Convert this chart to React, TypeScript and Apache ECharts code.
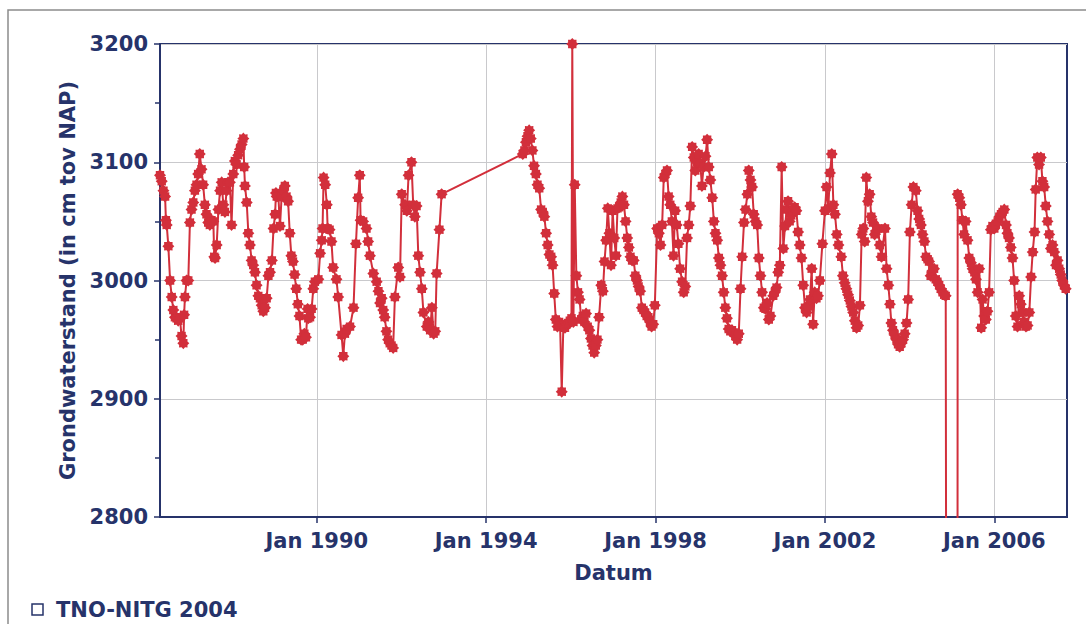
import React, { useEffect, useRef } from 'react';
import * as echarts from 'echarts';

const obs1986to1989: [string, number][] = [
  ['1986-04-20', 3089], ['1986-05-05', 3084], ['1986-05-20', 3076], ['1986-06-03', 3071], ['1986-06-10', 3051],
  ['1986-06-17', 3047], ['1986-07-01', 3029], ['1986-07-16', 3000], ['1986-07-30', 2986], ['1986-08-13', 2975],
  ['1986-08-27', 2969], ['1986-09-10', 2968], ['1986-09-24', 2966], ['1986-10-09', 2968], ['1986-10-23', 2953],
  ['1986-11-07', 2947], ['1986-11-14', 2971], ['1986-11-21', 2986], ['1986-12-05', 3000], ['1986-12-20', 3000],
  ['1987-01-03', 3049], ['1987-01-17', 3060], ['1987-02-01', 3066], ['1987-02-15', 3076], ['1987-03-01', 3081],
  ['1987-03-15', 3090], ['1987-03-29', 3107], ['1987-04-13', 3094], ['1987-04-27', 3081], ['1987-05-12', 3064],
  ['1987-05-26', 3056], ['1987-06-10', 3049], ['1987-06-24', 3047], ['1987-07-08', 3051], ['1987-07-24', 3050],
  ['1987-08-01', 3020], ['1987-08-08', 3019], ['1987-08-22', 3030], ['1987-09-06', 3060], ['1987-09-20', 3076],
  ['1987-10-04', 3083], ['1987-10-18', 3064], ['1987-11-01', 3058], ['1987-11-15', 3076], ['1987-11-28', 3083],
  ['1987-12-14', 3083], ['1987-12-28', 3047],
  ['1988-01-12', 3090], ['1988-01-26', 3101], ['1988-02-09', 3098], ['1988-02-23', 3106], ['1988-03-10', 3111],
  ['1988-03-24', 3115], ['1988-04-08', 3120], ['1988-04-15', 3096], ['1988-04-22', 3080], ['1988-05-07', 3066],
  ['1988-05-21', 3040], ['1988-06-04', 3030], ['1988-06-18', 3017], ['1988-07-02', 3013], ['1988-07-17', 3007],
  ['1988-07-31', 2996], ['1988-08-15', 2987], ['1988-08-29', 2985], ['1988-09-13', 2979], ['1988-09-27', 2974],
  ['1988-10-12', 2977], ['1988-10-26', 2985], ['1988-11-10', 3004], ['1988-11-24', 3007], ['1988-12-10', 3017],
  ['1988-12-24', 3044],
  ['1989-01-07', 3056], ['1989-01-14', 3074], ['1989-01-21', 3071], ['1989-02-04', 3071], ['1989-02-18', 3046],
  ['1989-03-04', 3071], ['1989-03-18', 3076], ['1989-04-01', 3080], ['1989-04-15', 3071], ['1989-04-29', 3067],
  ['1989-05-13', 3040], ['1989-05-27', 3021], ['1989-06-10', 3016], ['1989-06-24', 3005], ['1989-07-08', 2993],
  ['1989-07-22', 2980], ['1989-08-05', 2970], ['1989-08-19', 2950], ['1989-09-02', 2950], ['1989-09-16', 2955],
  ['1989-09-30', 2952], ['1989-10-14', 2976], ['1989-10-20', 2968], ['1989-11-04', 2969], ['1989-11-18', 2976],
  ['1989-12-02', 2993], ['1989-12-16', 2999],
];

const obs1990to1992: [string, number][] = [
  ['1990-01-15', 3001], ['1990-01-30', 3023], ['1990-02-13', 3034], ['1990-02-20', 3044], ['1990-03-01', 3087],
  ['1990-03-15', 3081], ['1990-03-29', 3064], ['1990-04-05', 3044], ['1990-04-22', 3043], ['1990-05-08', 3033],
  ['1990-05-22', 3011], ['1990-06-20', 3001], ['1990-07-05', 2986], ['1990-08-03', 2954], ['1990-08-18', 2936],
  ['1990-09-01', 2955], ['1990-09-16', 2959], ['1990-10-15', 2961], ['1990-11-14', 2977], ['1990-12-05', 3031],
  ['1990-12-24', 3070],
  ['1991-01-07', 3089], ['1991-01-14', 3051], ['1991-02-05', 3050], ['1991-03-06', 3044], ['1991-03-20', 3033],
  ['1991-04-05', 3021], ['1991-05-04', 3006], ['1991-06-02', 2999], ['1991-06-17', 2991], ['1991-07-01', 2981],
  ['1991-07-15', 2985], ['1991-07-28', 2975], ['1991-08-10', 2969], ['1991-08-25', 2957], ['1991-09-08', 2950],
  ['1991-09-23', 2947], ['1991-10-08', 2945], ['1991-10-22', 2943], ['1991-11-06', 2986], ['1991-12-05', 3011],
  ['1991-12-20', 3003],
  ['1992-01-04', 3073], ['1992-02-02', 3064], ['1992-02-17', 3059], ['1992-03-03', 3089], ['1992-03-28', 3100],
  ['1992-04-12', 3064], ['1992-04-26', 3054], ['1992-05-11', 3063], ['1992-05-26', 3021], ['1992-06-10', 3007],
  ['1992-06-25', 2993], ['1992-07-09', 2973], ['1992-08-07', 2961], ['1992-08-21', 2965], ['1992-09-05', 2958],
  ['1992-09-20', 2977], ['1992-10-05', 2955], ['1992-10-19', 2957], ['1992-10-31', 3006], ['1992-11-24', 3043],
  ['1992-12-13', 3073],
];

const obs1994to1996: [string, number][] = [
  ['1994-11-13', 3107], ['1994-11-27', 3110], ['1994-12-10', 3117], ['1994-12-24', 3122], ['1995-01-07', 3127],
  ['1995-01-21', 3120], ['1995-02-04', 3110], ['1995-02-18', 3097], ['1995-03-06', 3090], ['1995-03-20', 3081],
  ['1995-04-04', 3078], ['1995-04-20', 3060], ['1995-05-04', 3058], ['1995-05-18', 3054], ['1995-06-02', 3040],
  ['1995-06-16', 3030], ['1995-07-01', 3022], ['1995-07-16', 3020], ['1995-07-28', 3013], ['1995-08-11', 2989],
  ['1995-08-25', 2967], ['1995-09-08', 2961], ['1995-09-22', 2965], ['1995-10-01', 2962], ['1995-10-15', 2906],
  ['1995-10-29', 2962], ['1995-11-12', 2960], ['1995-11-26', 2963], ['1995-12-10', 2964], ['1995-12-24', 2966],
  ['1996-01-07', 2968], ['1996-01-14', 3200], ['1996-01-24', 2965], ['1996-02-04', 3081], ['1996-02-18', 3004],
  ['1996-03-03', 2990], ['1996-03-17', 2984], ['1996-03-31', 2967], ['1996-04-14', 2970], ['1996-04-28', 2965],
  ['1996-05-12', 2972], ['1996-05-26', 2961], ['1996-06-09', 2958], ['1996-06-23', 2951], ['1996-07-07', 2945],
  ['1996-07-21', 2939], ['1996-08-04', 2945], ['1996-08-18', 2950], ['1996-09-01', 2969], ['1996-09-20', 2996],
  ['1996-10-04', 2991], ['1996-10-18', 3016], ['1996-11-01', 3034], ['1996-11-15', 3061], ['1996-11-29', 3040],
  ['1996-12-13', 3013], ['1996-12-27', 3059],
];

const obs1997to1999: [string, number][] = [
  ['1997-01-10', 3036], ['1997-01-24', 3021], ['1997-02-07', 3061], ['1997-02-21', 3062], ['1997-03-07', 3066],
  ['1997-03-21', 3071], ['1997-04-04', 3064], ['1997-04-18', 3050], ['1997-05-02', 3036], ['1997-05-16', 3028],
  ['1997-05-30', 3020], ['1997-06-13', 3017], ['1997-06-27', 3017], ['1997-07-11', 3004], ['1997-07-25', 3000],
  ['1997-08-08', 2995], ['1997-08-22', 2991], ['1997-09-05', 2977], ['1997-09-19', 2975], ['1997-10-03', 2973],
  ['1997-10-17', 2970], ['1997-10-31', 2969], ['1997-11-14', 2965], ['1997-11-28', 2961], ['1997-12-12', 2963],
  ['1997-12-26', 2979],
  ['1998-01-15', 3044], ['1998-01-30', 3040], ['1998-02-13', 3030], ['1998-02-27', 3047], ['1998-03-13', 3087],
  ['1998-03-27', 3090], ['1998-04-10', 3093], ['1998-04-24', 3071], ['1998-05-08', 3064], ['1998-05-22', 3050],
  ['1998-06-05', 3021], ['1998-06-19', 3059], ['1998-07-03', 3047], ['1998-07-17', 3031], ['1998-08-01', 3010],
  ['1998-08-18', 2999], ['1998-09-01', 2990], ['1998-09-15', 2995], ['1998-09-30', 3036], ['1998-10-14', 3047],
  ['1998-10-28', 3063], ['1998-11-13', 3113], ['1998-11-27', 3104], ['1998-12-10', 3093], ['1998-12-24', 3100],
  ['1999-01-08', 3107], ['1999-01-22', 3099], ['1999-02-05', 3080], ['1999-02-19', 3096], ['1999-03-08', 3105],
  ['1999-03-22', 3119], ['1999-04-05', 3096], ['1999-04-19', 3085], ['1999-05-05', 3070], ['1999-05-19', 3050],
  ['1999-06-02', 3040], ['1999-06-17', 3034], ['1999-07-01', 3019], ['1999-07-15', 3013], ['1999-07-29', 3004],
  ['1999-08-12', 2990], ['1999-08-26', 2977], ['1999-09-09', 2968], ['1999-09-24', 2959], ['1999-10-08', 2957],
  ['1999-10-22', 2958], ['1999-11-06', 2956], ['1999-11-20', 2953], ['1999-12-06', 2950], ['1999-12-20', 2955],
];

const obs2000to2003: [string, number][] = [
  ['2000-01-04', 2993], ['2000-01-18', 3020], ['2000-02-03', 3049], ['2000-02-17', 3060], ['2000-03-03', 3073],
  ['2000-03-15', 3093], ['2000-03-30', 3085], ['2000-04-13', 3079], ['2000-04-27', 3056], ['2000-05-12', 3050],
  ['2000-05-27', 3047], ['2000-06-10', 3019], ['2000-06-24', 3004], ['2000-07-08', 2990], ['2000-07-23', 2977],
  ['2000-08-06', 2976], ['2000-08-20', 2981], ['2000-09-04', 2967], ['2000-09-18', 2970], ['2000-10-12', 2987],
  ['2000-10-26', 2990], ['2000-11-10', 2994], ['2000-11-24', 3007], ['2000-12-08', 3013], ['2000-12-24', 3096],
  ['2001-01-07', 3027], ['2001-01-22', 3046], ['2001-02-05', 3060], ['2001-02-17', 3067], ['2001-03-03', 3050],
  ['2001-03-17', 3055], ['2001-04-01', 3059], ['2001-04-15', 3062], ['2001-04-30', 3059], ['2001-05-15', 3041],
  ['2001-05-29', 3030], ['2001-06-13', 3019], ['2001-06-28', 2996], ['2001-07-13', 2977], ['2001-07-27', 2973],
  ['2001-08-10', 2978], ['2001-08-25', 2984], ['2001-09-09', 3010], ['2001-09-21', 2963], ['2001-10-05', 2990],
  ['2001-10-20', 2985], ['2001-11-03', 2987], ['2001-11-18', 3000], ['2001-12-10', 3031],
  ['2002-01-01', 3059], ['2002-01-15', 3079], ['2002-01-30', 3061], ['2002-02-14', 3091], ['2002-03-01', 3107],
  ['2002-03-15', 3064], ['2002-03-29', 3056], ['2002-04-13', 3039], ['2002-04-28', 3030], ['2002-05-22', 3020],
  ['2002-06-05', 3004], ['2002-06-20', 2998], ['2002-07-05', 2993], ['2002-07-20', 2988], ['2002-08-04', 2983],
  ['2002-08-18', 2978], ['2002-09-02', 2973], ['2002-09-16', 2966], ['2002-10-01', 2960], ['2002-10-15', 2962],
  ['2002-10-30', 2979], ['2002-11-14', 3039], ['2002-11-28', 3044], ['2002-12-10', 3033], ['2002-12-24', 3087],
  ['2003-01-07', 3067], ['2003-01-22', 3073], ['2003-02-05', 3054], ['2003-02-20', 3049], ['2003-03-06', 3039],
  ['2003-03-20', 3042], ['2003-04-05', 3044], ['2003-04-19', 3030], ['2003-05-04', 3020], ['2003-06-03', 3044],
  ['2003-06-17', 3010], ['2003-07-02', 2996], ['2003-07-16', 2980], ['2003-07-28', 2964], ['2003-08-11', 2958],
  ['2003-08-25', 2954], ['2003-09-10', 2950], ['2003-09-24', 2946], ['2003-10-08', 2944], ['2003-10-22', 2947],
  ['2003-11-06', 2950], ['2003-11-20', 2955], ['2003-12-06', 2964], ['2003-12-20', 2984],
];

const obs2004to2007: [string, number][] = [
  ['2004-01-04', 3041], ['2004-01-19', 3064], ['2004-02-03', 3079], ['2004-02-24', 3076], ['2004-03-10', 3059],
  ['2004-03-24', 3052], ['2004-04-08', 3047], ['2004-04-22', 3039], ['2004-05-08', 3033], ['2004-05-22', 3020],
  ['2004-06-05', 3018], ['2004-06-17', 3016], ['2004-07-01', 3004], ['2004-07-15', 3008], ['2004-07-30', 3010],
  ['2004-08-14', 3001], ['2004-08-28', 2999], ['2004-09-12', 2996], ['2004-09-26', 2993], ['2004-10-12', 2990],
  ['2004-10-26', 2988], ['2004-11-08', 2987], ['2004-11-15', 2500], ['2005-02-17', 2500], ['2005-02-19', 3073],
  ['2005-03-05', 3070], ['2005-03-19', 3064], ['2005-04-01', 3051], ['2005-04-15', 3039], ['2005-04-29', 3050],
  ['2005-05-15', 3034], ['2005-05-30', 3019], ['2005-06-14', 3015], ['2005-06-28', 3010], ['2005-07-13', 3007],
  ['2005-07-27', 3001], ['2005-08-10', 2990], ['2005-08-24', 3010], ['2005-09-10', 2960], ['2005-09-22', 2984],
  ['2005-10-05', 2970], ['2005-10-20', 2967], ['2005-11-03', 2974], ['2005-11-17', 2990], ['2005-12-02', 3043],
  ['2005-12-16', 3046],
  ['2006-01-01', 3044], ['2006-01-15', 3048], ['2006-01-30', 3050], ['2006-02-14', 3054], ['2006-02-28', 3056],
  ['2006-03-14', 3058], ['2006-03-28', 3060], ['2006-04-12', 3047], ['2006-04-24', 3040], ['2006-05-08', 3036],
  ['2006-05-23', 3028], ['2006-06-07', 3019], ['2006-06-21', 3000], ['2006-07-05', 2970], ['2006-07-20', 2961],
  ['2006-08-04', 2987], ['2006-08-18', 2980], ['2006-09-02', 2973], ['2006-09-16', 2965], ['2006-10-01', 2961],
  ['2006-10-15', 2962], ['2006-10-30', 2973], ['2006-11-14', 3003], ['2006-11-28', 3024], ['2006-12-14', 3041],
  ['2006-12-24', 3077],
  ['2007-01-07', 3104], ['2007-01-22', 3098], ['2007-02-06', 3104], ['2007-02-20', 3084], ['2007-03-07', 3079],
  ['2007-03-21', 3063], ['2007-04-05', 3050], ['2007-04-20', 3039], ['2007-05-04', 3027], ['2007-05-18', 3030],
  ['2007-06-02', 3024], ['2007-06-17', 3013], ['2007-07-01', 3017], ['2007-07-15', 3010], ['2007-07-28', 3005],
  ['2007-08-10', 3000], ['2007-08-25', 2996], ['2007-09-09', 2993],
];

const xTickDates = ['1990-01-01', '1994-01-01', '1998-01-01', '2002-01-01', '2006-01-01'];
const xMin = '1986-04-20';
const xMax = '2007-09-20';
const yMin = 2800;
const yMax = 3200;
const yStep = 100;

const seriesName = 'TNO-NITG 2004';
const xTitle = 'Datum';
const yTitle = 'Grondwaterstand (in cm tov NAP)';

const NAVY = '#26336a';
const RED = '#d22f3b';
const GRID = '#c9c9cc';
const FONT = 'DejaVu Sans';

const STAR =
  'path://M10 0L12.87 3.07L17.07 2.93L16.93 7.13L20 10L16.93 12.87L17.07 17.07L12.87 16.93L10 20L7.13 16.93L2.93 17.07L3.07 12.87L0 10L3.07 7.13L2.93 2.93L7.13 3.07Z';

const toMs = (d: string) => Date.parse(d + 'T00:00:00Z');

export default function App() {
  const ref = useRef<HTMLDivElement>(null);

  useEffect(() => {
    if (!ref.current) return;
    const chart = echarts.init(ref.current, null, { renderer: 'svg' });
    const data = [
      ...obs1986to1989,
      ...obs1990to1992,
      ...obs1994to1996,
      ...obs1997to1999,
      ...obs2000to2003,
      ...obs2004to2007,
    ].map(([d, v]) => [toMs(d), v]);
    const tickMs = xTickDates.map(toMs);
    const labelFont = { fontFamily: FONT, fontWeight: 'bold' as const, fontSize: 21, color: NAVY };

    chart.setOption({
      animation: false,
      backgroundColor: '#ffffff',
      grid: {
        left: 160,
        right: 19,
        top: 44,
        bottom: 107,
        show: true,
        borderColor: NAVY,
        borderWidth: 2,
        backgroundColor: '#ffffff',
        containLabel: false,
      },
      xAxis: {
        type: 'value',
        min: toMs(xMin),
        max: toMs(xMax),
        name: xTitle,
        nameLocation: 'middle',
        nameGap: 45,
        nameTextStyle: labelFont,
        axisLine: { show: true, lineStyle: { color: NAVY, width: 2 } },
        axisTick: { show: true, length: 6, lineStyle: { color: NAVY, width: 1.5 }, customValues: tickMs },
        axisLabel: {
          ...labelFont,
          margin: 13,
          hideOverlap: false,
          customValues: tickMs,
          formatter: (v: number) => 'Jan ' + new Date(v).getUTCFullYear(),
        },
        splitLine: { show: true, lineStyle: { color: GRID, width: 1 } },
      },
      yAxis: {
        type: 'value',
        min: yMin,
        max: yMax,
        interval: yStep,
        name: yTitle,
        nameLocation: 'middle',
        nameRotate: 90,
        nameGap: 74,
        nameTextStyle: labelFont,
        axisLine: { show: true, lineStyle: { color: NAVY, width: 2 } },
        axisTick: { show: true, length: 6, lineStyle: { color: NAVY, width: 1.5 } },
        minorTick: { show: true, splitNumber: 2, length: 5, lineStyle: { color: NAVY, width: 1.5 } },
        axisLabel: { ...labelFont, margin: 12, formatter: (v: number) => String(v) },
        splitLine: { show: true, lineStyle: { color: GRID, width: 1 } },
      },
      series: [
        {
          name: seriesName,
          type: 'line',
          data,
          symbol: STAR,
          symbolSize: 12,
          showAllSymbol: true,
          clip: true,
          lineStyle: { color: RED, width: 2 },
          itemStyle: { color: RED },
          emphasis: { disabled: true },
        },
      ],
      graphic: [
        {
          type: 'rect',
          shape: { x: 8, y: 10, width: 1100, height: 700 },
          style: { fill: 'none', stroke: '#8c8c8c', lineWidth: 1.5 },
          silent: true,
          z: -10,
        },
        {
          type: 'rect',
          shape: { x: 32, y: 604, width: 11, height: 11 },
          style: { fill: '#ffffff', stroke: NAVY, lineWidth: 1.5 },
          silent: true,
        },
        {
          type: 'text',
          x: 56,
          y: 610,
          style: {
            text: seriesName,
            fontFamily: FONT,
            fontWeight: 'bold',
            fontSize: 21,
            fill: NAVY,
            verticalAlign: 'middle',
            textAlign: 'left',
          },
          silent: true,
        },
      ],
    });
    return () => chart.dispose();
  }, []);

  return (
    <div
      ref={ref}
      style={{ position: 'fixed', left: 0, top: 0, width: 1086, height: 624, background: '#fff' }}
    />
  );
}
